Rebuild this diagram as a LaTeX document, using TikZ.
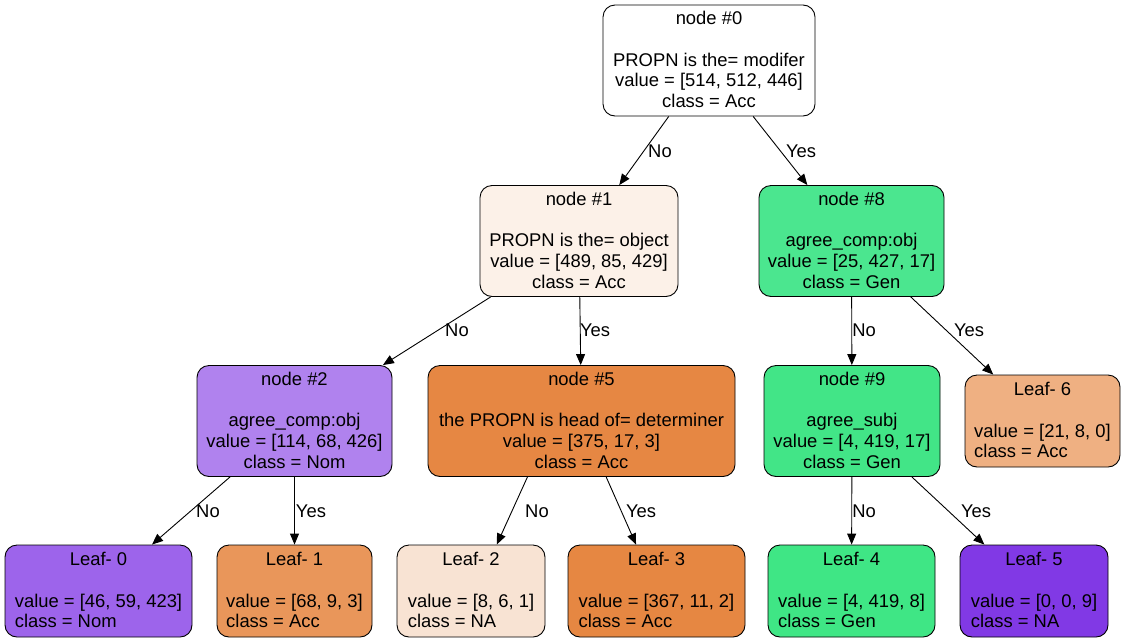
\documentclass[tikz,border=0pt]{standalone}
\usepackage{fontspec}
\setmainfont{Liberation Sans}
\usetikzlibrary{arrows.meta}

% fill colours of the tree nodes
\definecolor{cWhite}{RGB}{255,255,255}
\definecolor{cN1}{RGB}{252,241,232}
\definecolor{cN8}{RGB}{75,230,143}
\definecolor{cN2}{RGB}{176,130,238}
\definecolor{cN5}{RGB}{230,135,67}
\definecolor{cN9}{RGB}{66,229,135}
\definecolor{cL6}{RGB}{239,176,130}
\definecolor{cL0}{RGB}{157,100,235}
\definecolor{cL1}{RGB}{233,150,90}
\definecolor{cL2}{RGB}{248,227,211}
\definecolor{cL3}{RGB}{230,135,66}
\definecolor{cL4}{RGB}{63,230,133}
\definecolor{cL5}{RGB}{129,57,229}

% text of a split node and of a leaf (drawn slightly low inside the box)
\newcommand\splittext[4]{\raisebox{-1.6pt}[\height][\depth]{\begin{tabular}{@{}c@{}}#1\\ \\ #2\\ value = #3\\ class = #4\end{tabular}}}
\newcommand\leaftext[3]{\raisebox{-1.6pt}[\height][\depth]{\begin{tabular}{@{}l@{}}\multicolumn{1}{@{}c@{}}{#1}\\ \\ value = #2\\ class = #3\end{tabular}}}

\begin{document}
\begin{tikzpicture}[x=1pt,y=-1pt,
  treefont/.style={font=\fontsize{18.4}{20.7}\selectfont},
  box/.style={draw=black, line width=0.9pt, rounded corners=12pt, inner sep=0pt,
              minimum height=111pt, treefont},
  leafbox/.style={box, minimum height=92pt},
  edge/.style={-{Triangle[length=11pt,width=9pt]}, line width=0.9pt},
  elabel/.style={treefont, inner sep=0pt}]
\useasboundingbox (0,0) rectangle (1126,643);

% split nodes
\node[box, fill=cWhite, minimum width=212pt] (n0) at (709,60.5)
  {\splittext{node \#0}{PROPN is the= modifer}{[514, 512, 446]}{Acc}};
\node[box, fill=cN1, minimum width=198pt] (n1) at (579,241)
  {\splittext{node \#1}{PROPN is the= object}{[489, 85, 429]}{Acc}};
\node[box, fill=cN8, minimum width=185pt] (n8) at (851.5,241)
  {\splittext{node \#8}{agree\_comp:obj}{[25, 427, 17]}{Gen}};
\node[box, fill=cN2, minimum width=195pt] (n2) at (294.5,421)
  {\splittext{node \#2}{agree\_comp:obj}{[114, 68, 426]}{Nom}};
\node[box, fill=cN5, minimum width=307pt] (n5) at (581.5,421)
  {\splittext{node \#5}{the PROPN is head of= determiner}{[375, 17, 3]}{Acc}};
\node[box, fill=cN9, minimum width=176pt] (n9) at (852,421)
  {\splittext{node \#9}{agree\_subj}{[4, 419, 17]}{Gen}};

% leaves
\node[leafbox, fill=cL6, minimum width=155pt] (l6) at (1042.5,421)
  {\leaftext{Leaf- 6}{[21, 8, 0]}{Acc}};
\node[leafbox, fill=cL0, minimum width=187pt] (l0) at (98.5,591)
  {\leaftext{Leaf- 0}{[46, 59, 423]}{Nom}};
\node[leafbox, fill=cL1, minimum width=155pt] (l1) at (294.5,591)
  {\leaftext{Leaf- 1}{[68, 9, 3]}{Acc}};
\node[leafbox, fill=cL2, minimum width=148pt] (l2) at (471,591)
  {\leaftext{Leaf- 2}{[8, 6, 1]}{NA}};
\node[leafbox, fill=cL3, minimum width=177pt] (l3) at (656.5,591)
  {\leaftext{Leaf- 3}{[367, 11, 2]}{Acc}};
\node[leafbox, fill=cL4, minimum width=167pt] (l4) at (851.5,591)
  {\leaftext{Leaf- 4}{[4, 419, 8]}{Gen}};
\node[leafbox, fill=cL5, minimum width=148pt] (l5) at (1034,591)
  {\leaftext{Leaf- 5}{[0, 0, 9]}{NA}};

% branches
\draw[edge] (n0) -- (n1);
\draw[edge] (n0) -- (n8);
\draw[edge] (n1) -- (n2);
\draw[edge] (n1) -- (n5);
\draw[edge] (n8) -- (n9);
\draw[edge] (n8) -- (l6);
\draw[edge] (n2) -- (l0);
\draw[edge] (n2) -- (l1);
\draw[edge] (n5.226) -- (l2.61);
\draw[edge] (n5) -- (l3);
\draw[edge] (n9) -- (l4);
\draw[edge] (n9) -- (l5);

% branch labels
\node[elabel] (e01) at (660,151) {No};
\node[elabel] (e08) at (801,151) {Yes};
\node[elabel] (e12) at (457,330) {No};
\node[elabel] (e15) at (595,330) {Yes};
\node[elabel] (e89) at (864,330) {No};
\node[elabel] (e86) at (969,330) {Yes};
\node[elabel] (e20) at (208,511) {No};
\node[elabel] (e21) at (311,511) {Yes};
\node[elabel] (e52) at (537,511) {No};
\node[elabel] (e53) at (641,511) {Yes};
\node[elabel] (e94) at (864,511) {No};
\node[elabel] (e95) at (976,511) {Yes};
\end{tikzpicture}
\end{document}
